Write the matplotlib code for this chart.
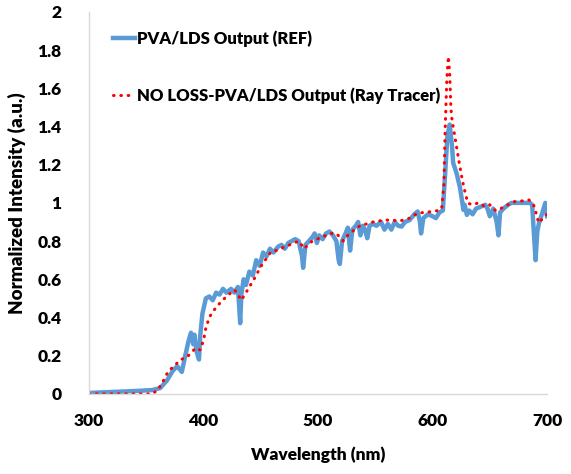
import matplotlib
matplotlib.use('Agg')
import matplotlib.pyplot as plt

# REF spectrum (blue)
ref_wl = [300, 320, 340, 355, 362, 368, 373, 377, 381, 384, 387, 389, 391, 392, 394, 396, 397, 399,
          402, 405, 408, 411, 414, 417, 420, 424, 427, 430, 432, 433, 435, 437, 440, 443, 446, 449,
          452, 455, 458, 461, 465, 468, 471, 474, 477, 480, 483, 486, 487, 489, 492, 495, 497, 499,
          501, 504, 507, 510, 513, 516, 518, 519, 521, 524, 526, 528, 530, 533, 535, 537, 539, 541,
          543, 545, 548, 551, 555, 558, 561, 564, 567, 570, 573, 576, 580, 584, 587, 589, 590, 592,
          596, 600, 603, 606, 609, 611, 613, 615, 617, 618, 621, 624, 627, 628, 630, 632, 635, 638,
          642, 646, 648, 650, 653, 656, 657.6, 659, 662, 666, 669, 675, 680, 685, 687, 689, 690,
          691.5, 693, 696, 698.5, 700]
ref_int = [0.005, 0.01, 0.015, 0.02, 0.03, 0.07, 0.12, 0.145, 0.115, 0.2, 0.28, 0.32, 0.26, 0.31, 0.22, 0.18, 0.3, 0.42,
           0.50, 0.51, 0.49, 0.53, 0.52, 0.55, 0.53, 0.55, 0.53, 0.56, 0.37, 0.52, 0.60, 0.57, 0.64, 0.62, 0.70, 0.67,
           0.74, 0.72, 0.76, 0.74, 0.77, 0.78, 0.76, 0.79, 0.80, 0.81, 0.80, 0.72, 0.66, 0.78, 0.80, 0.82, 0.84, 0.79,
           0.83, 0.81, 0.84, 0.85, 0.83, 0.80, 0.70, 0.68, 0.80, 0.84, 0.87, 0.75, 0.86, 0.88, 0.90, 0.83, 0.88, 0.86,
           0.815, 0.88, 0.89, 0.88, 0.90, 0.86, 0.89, 0.86, 0.90, 0.88, 0.876, 0.90, 0.91, 0.94, 0.955, 0.90, 0.84, 0.92,
           0.94, 0.93, 0.92, 0.95, 0.96, 1.15, 1.35, 1.41, 1.30, 1.21, 1.155, 1.08, 0.963, 0.99, 0.937, 0.96, 0.94, 0.97,
           0.98, 0.99, 0.97, 0.93, 0.97, 0.90, 0.83, 0.95, 0.97, 0.99, 1.0, 1.0, 1.0, 1.0, 0.99, 0.80, 0.70,
           0.85, 0.894, 0.95, 1.0, 0.93]

# ray tracer spectrum (red dotted)
rt_wl = [300, 355, 360, 365, 369, 375, 380, 385, 390, 393, 397, 400, 402, 405, 408, 412, 415, 420, 424, 427,
         430, 433, 436, 440, 445, 450, 455, 459, 463, 467, 471, 475, 479, 483, 488, 491, 495, 499, 503, 507,
         511, 516, 519, 522, 526, 530, 534, 538, 543, 548, 553, 558, 565, 570, 575, 580, 584, 587, 593, 600,
         605, 608, 610, 611, 612.5, 613.8, 615, 616, 617, 620, 623, 626, 629, 631, 635, 640, 646, 650, 655,
         658, 662, 666, 672, 678, 684, 687, 689, 692.7, 695, 698, 700]
rt_int = [0.0, 0.0, 0.02, 0.07, 0.117, 0.15, 0.18, 0.19, 0.22, 0.24, 0.23, 0.28, 0.345, 0.40, 0.43, 0.46, 0.48, 0.51, 0.53, 0.545,
          0.52, 0.49, 0.52, 0.56, 0.61, 0.667, 0.71, 0.745, 0.75, 0.76, 0.77, 0.78, 0.79, 0.80, 0.76, 0.78, 0.80, 0.81, 0.82, 0.83,
          0.84, 0.84, 0.82, 0.80, 0.83, 0.85, 0.87, 0.885, 0.89, 0.90, 0.905, 0.91, 0.91, 0.905, 0.91, 0.92, 0.935, 0.946, 0.95, 0.955,
          0.96, 0.97, 1.1, 1.38, 1.65, 1.766, 1.68, 1.50, 1.435, 1.33, 1.22, 1.12, 1.04, 0.998, 0.99, 1.00, 0.98, 0.99, 0.96,
          0.963, 0.98, 0.99, 1.007, 1.01, 1.016, 1.0, 0.98, 0.895, 0.91, 0.93, 0.94]

xticks = [300, 400, 500, 600, 700]
yticks = [0, 0.2, 0.4, 0.6, 0.8, 1, 1.2, 1.4, 1.6, 1.8, 2]
ytick_labels = ['0', '0.2', '0.4', '0.6', '0.8', '1', '1.2', '1.4', '1.6', '1.8', '2']

plt.rcParams['font.family'] = ['Lato', 'DejaVu Sans']
plt.rcParams['font.weight'] = 'bold'

fig = plt.figure(figsize=(5.71, 4.74), dpi=100)
ax = fig.add_axes([0.156, 0.169, 0.802, 0.806])

ax.plot(ref_wl, ref_int, color='#5B9BD5', lw=3.2, label='PVA/LDS Output (REF)', solid_joinstyle='round')
ax.plot(rt_wl, rt_int, color='#FF0000', lw=2.2, linestyle=(0, (0.2, 2.2)), dash_capstyle='round',
        label='NO LOSS-PVA/LDS Output (Ray Tracer)')

ax.set_xlim(300, 700)
ax.set_ylim(0, 2)
ax.set_xticks(xticks)
ax.set_xticklabels([str(t) for t in xticks], fontsize=12.5, fontweight='heavy')
ax.set_yticks(yticks)
ax.set_yticklabels(ytick_labels, fontsize=12.5, fontweight='heavy')
ax.tick_params(length=0, pad=14)
ax.tick_params(axis='y', pad=20)

for s in ['top', 'right']:
    ax.spines[s].set_visible(False)
for s in ['left', 'bottom']:
    ax.spines[s].set_color('#D9D9D9')
    ax.spines[s].set_linewidth(1)

ax.set_xlabel('Wavelength (nm)', fontsize=12.5, fontweight='heavy', labelpad=12)
ax.set_ylabel('Normalized Intensity (a.u.)', fontsize=13.5, fontweight='heavy', labelpad=8)

ax.legend(loc='upper left', bbox_to_anchor=(0.02, 0.99), frameon=False,
          handlelength=1.3, handletextpad=0.1, labelspacing=2.4, prop={'weight': 'heavy', 'size': 12})

plt.savefig('out.png', dpi=100)
